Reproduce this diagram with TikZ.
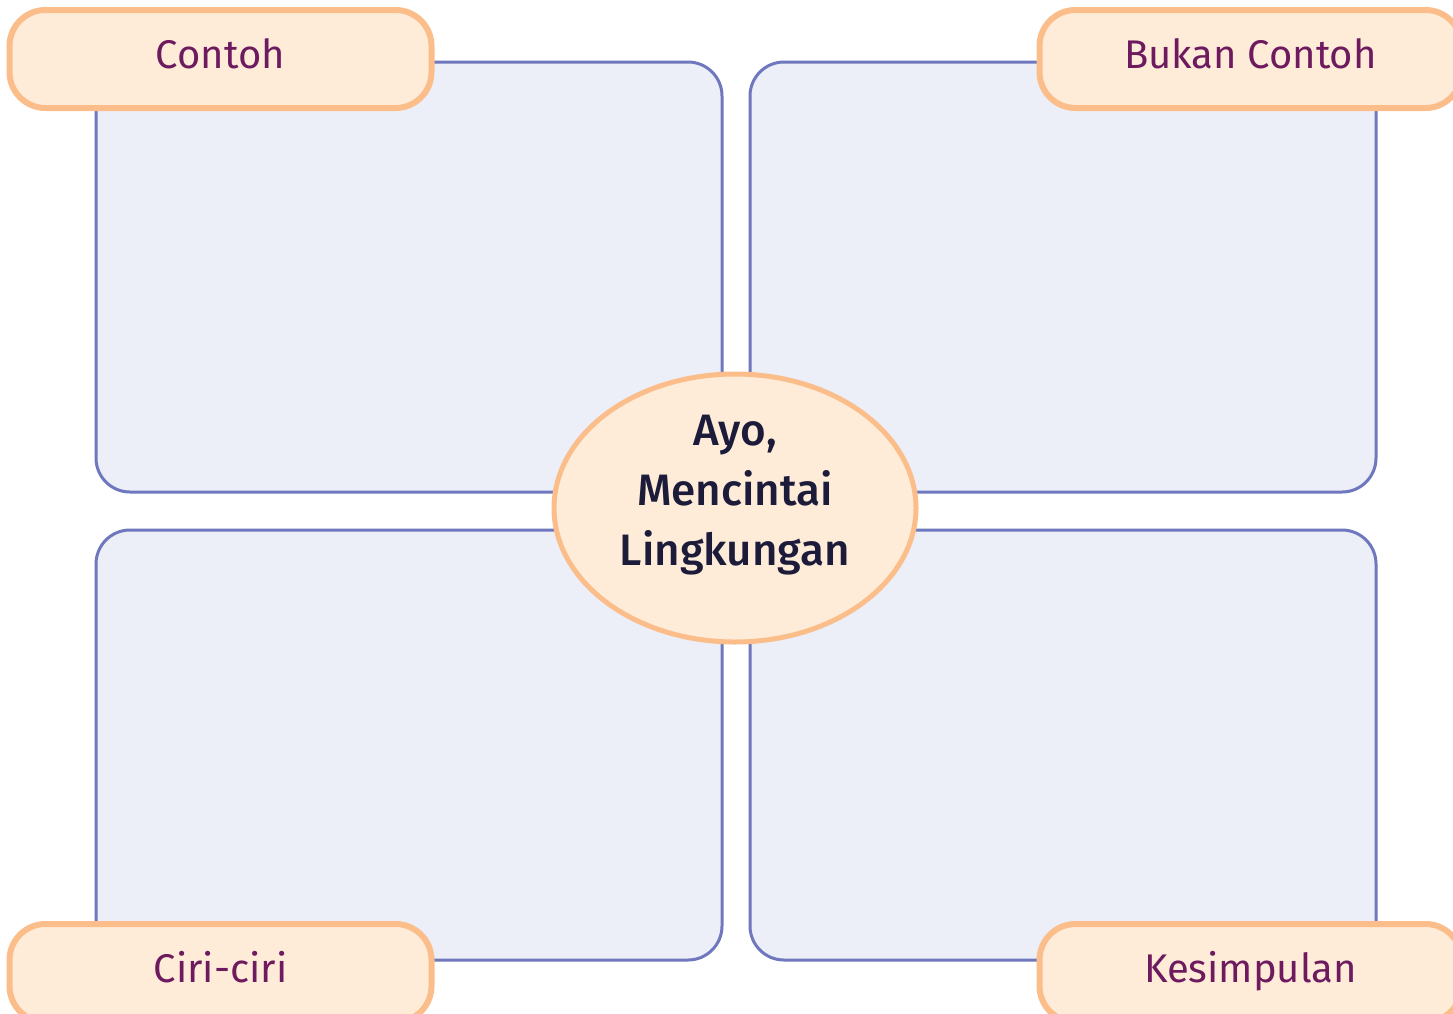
\documentclass[tikz,border=0pt]{standalone}
\usepackage{fontspec}
\setmainfont{Fira Sans}
\newfontfamily\midfont{Fira Sans Medium}
\usetikzlibrary{shapes.geometric}
\definecolor{panelfill}{HTML}{ECEFF8}
\definecolor{paneldraw}{HTML}{6F78BE}
\definecolor{tagfill}{HTML}{FEECD9}
\definecolor{tagdraw}{HTML}{FBBE8A}
\definecolor{tagtext}{HTML}{6E1A5E}
\definecolor{hubtext}{HTML}{1C1B3A}
\tikzset{
  panel/.style={draw=paneldraw, fill=panelfill, line width=3pt, rounded corners=34pt,
    minimum width=626pt, minimum height=430pt, inner sep=0pt},
  tag/.style={draw=tagdraw, fill=tagfill, line width=6pt, rounded corners=36pt,
    minimum width=422pt, minimum height=98pt, inner sep=0pt,
    text height=30pt, text depth=12pt,
    font=\fontsize{40}{48}\selectfont, text=tagtext},
  hub/.style={ellipse, draw=tagdraw, fill=tagfill, line width=5pt,
    minimum width=362pt, minimum height=268pt, inner sep=0pt},
  hubtitle/.style={align=center, font=\midfont\fontsize{44}{60}\selectfont, text=hubtext}
}
\begin{document}
\begin{tikzpicture}[x=1pt,y=-1pt]
\useasboundingbox[fill=white] (0,0) rectangle (1453,1013);
\node[panel] (p1) at (409,277) {};
\node[panel] (p2) at (1063,277) {};
\node[panel] (p3) at (409,745) {};
\node[panel] (p4) at (1063,745) {};
\node[tag] (t1) at (220.5,59) {Contoh};
\node[tag] (t2) at (1250.5,59) {Bukan Contoh};
\node[tag] (t3) at (220.5,973) {Ciri-ciri};
\node[tag] (t4) at (1250.5,973) {Kesimpulan};
\node[hub] (h) at (735,508) {};
\node[hubtitle] (ht) at (735,495) {Ayo,\\Mencintai\\Lingkungan};
\end{tikzpicture}
\end{document}
